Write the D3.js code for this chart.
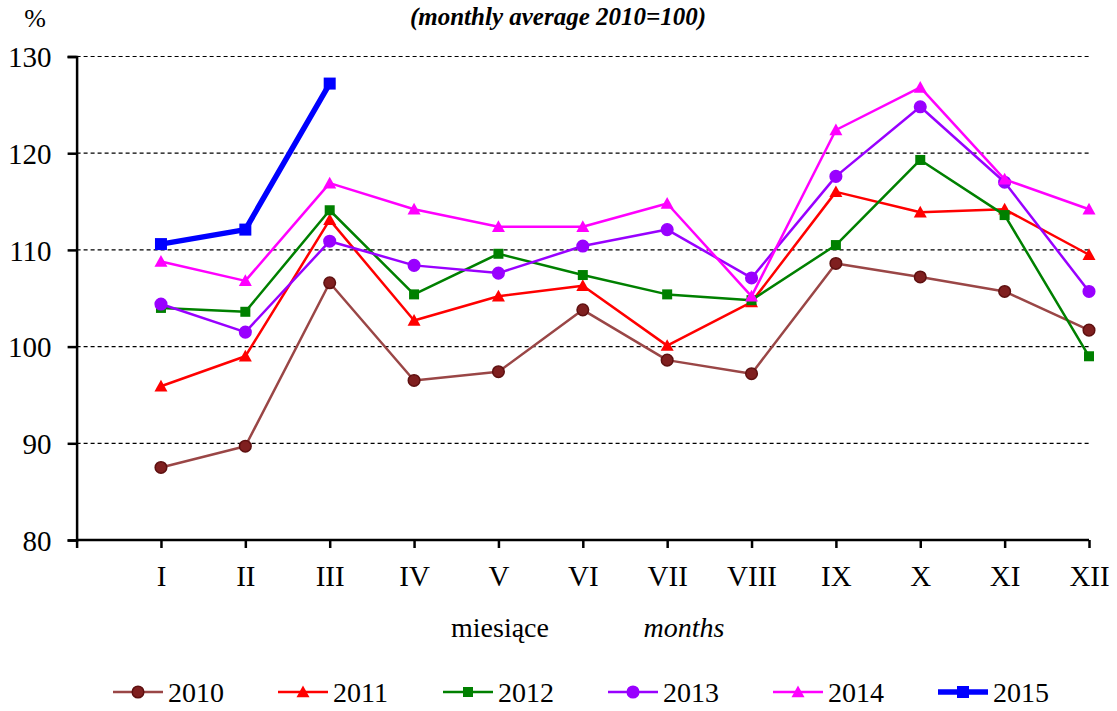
<!DOCTYPE html>
<html>
<head>
<meta charset="utf-8">
<script src="https://cdn.jsdelivr.net/npm/d3@7"></script>
<style>
  body { margin: 0; background: #fff; }
  svg text { font-family: "Liberation Serif", "Times New Roman", "DejaVu Serif", serif !important; fill: #000; }
</style>
</head>
<body>
<svg id="chart"></svg>
<script>
const width = 1117;
const height = 711;
const serif = '"Liberation Serif", "Times New Roman", serif';

// month labels and yearly series (monthly average 2010 = 100)
const months = ["I", "II", "III", "IV", "V", "VI", "VII", "VIII", "IX", "X", "XI", "XII"];
const yTicks = [80, 90, 100, 110, 120, 130];

const v2010 = [87.5, 89.7, 106.6, 96.5, 97.4, 103.8, 98.6, 97.2, 108.6, 107.2, 105.7, 101.7];
const v2011 = [95.9, 99.0, 113.1, 102.7, 105.2, 106.3, 100.1, 104.6, 116.0, 113.9, 114.2, 109.5];
const v2012 = [104.0, 103.6, 114.1, 105.4, 109.6, 107.4, 105.4, 104.8, 110.5, 119.3, 113.6, 99.0];
const v2013 = [104.4, 101.5, 110.9, 108.4, 107.6, 110.4, 112.1, 107.1, 117.6, 124.8, 117.0, 105.7];
const v2014 = [108.8, 106.8, 116.9, 114.2, 112.4, 112.4, 114.8, 105.2, 122.4, 126.8, 117.3, 114.2];
const v2015 = [110.6, 112.1, 127.2];

const series = [
  { name: "2010", values: v2010, line: "#9A4646", fill: "#7F1F1F", stroke: "#5E1010", shape: "circle", width: 2.5 },
  { name: "2011", values: v2011, line: "#FF0000", fill: "#FF0000", stroke: "#FF0000", shape: "triangle", width: 2.5 },
  { name: "2012", values: v2012, line: "#008000", fill: "#008000", stroke: "#008000", shape: "square", width: 2.5 },
  { name: "2013", values: v2013, line: "#9900FF", fill: "#9900FF", stroke: "#9900FF", shape: "circle", width: 2.5 },
  { name: "2014", values: v2014, line: "#FF00FF", fill: "#FF00FF", stroke: "#FF00FF", shape: "triangle", width: 2.5 },
  { name: "2015", values: v2015, line: "#0000FF", fill: "#0000FF", stroke: "#0000FF", shape: "square", width: 5.5 }
];

const svg = d3.select("#chart")
    .attr("width", width)
    .attr("height", height)
    .attr("font-family", serif);

// category positions 1..12, position 0 sits on the y axis
const x = d3.scaleLinear().domain([0, 12]).range([76.6, 1089]);
const y = d3.scaleLinear().domain([80, 130]).range([540, 56.5]);

// title
svg.append("text")
    .attr("x", 558)
    .attr("y", 25)
    .attr("text-anchor", "middle")
    .style("font-size", "25px")
    .style("font-weight", "bold")
    .style("font-style", "italic")
    .text("(monthly average 2010=100)");

svg.append("text")
    .attr("x", 35)
    .attr("y", 27)
    .attr("text-anchor", "middle")
    .style("font-size", "26px")
    .text("%");

// dashed gridlines
svg.append("g")
    .selectAll("line")
    .data(yTicks.filter(d => d > 80))
    .join("line")
    .attr("x1", x(0))
    .attr("x2", x(12))
    .attr("y1", d => y(d))
    .attr("y2", d => y(d))
    .attr("stroke", "#000")
    .attr("stroke-width", 1.2)
    .attr("stroke-dasharray", "4,3");

// y axis
const yAxis = svg.append("g")
    .attr("transform", `translate(${x(0)},0)`)
    .call(d3.axisLeft(y).tickValues(yTicks).tickSize(9).tickPadding(16));
yAxis.attr("font-family", serif);
yAxis.selectAll("text")
    .style("font-size", "29px")
    .attr("dy", "0.35em");
yAxis.selectAll("line, path").attr("stroke", "#000").attr("stroke-width", 2.5);

// x axis
const xAxis = svg.append("g")
    .attr("transform", `translate(0,${y(80)})`)
    .call(d3.axisBottom(x)
        .tickValues(d3.range(0, 13))
        .tickSize(8)
        .tickPadding(17)
        .tickFormat(d => d === 0 ? "" : months[d - 1]));
xAxis.attr("font-family", serif);
xAxis.selectAll("text")
    .style("font-size", "29px");
xAxis.selectAll("line, path").attr("stroke", "#000").attr("stroke-width", 2.5);
xAxis.select(".domain").attr("d", `M${x(0)},0H${x(12)}`);

// axis titles
svg.append("text")
    .attr("x", 500)
    .attr("y", 637)
    .attr("text-anchor", "middle")
    .style("font-size", "28px")
    .text("miesiące");

svg.append("text")
    .attr("x", 684)
    .attr("y", 637)
    .attr("text-anchor", "middle")
    .style("font-size", "28px")
    .style("font-style", "italic")
    .text("months");

// marker drawing helper
function drawMarker(g, s, cx, cy) {
    if (s.shape === "circle") {
        g.append("circle")
            .attr("cx", cx).attr("cy", cy).attr("r", 5.8)
            .attr("fill", s.fill).attr("stroke", s.stroke).attr("stroke-width", 1.5);
    } else if (s.shape === "square") {
        const a = s.name === "2015" ? 12 : 10;
        g.append("rect")
            .attr("x", cx - a / 2).attr("y", cy - a / 2)
            .attr("width", a).attr("height", a)
            .attr("fill", s.fill);
    } else {
        const h = 6.5;
        g.append("path")
            .attr("d", `M${cx},${cy - h}L${cx + h},${cy + h * 0.8}L${cx - h},${cy + h * 0.8}Z`)
            .attr("fill", s.fill);
    }
}

const line = d3.line()
    .x((d, i) => x(i + 1))
    .y(d => y(d));

// series lines and markers
series.forEach(s => {
    const g = svg.append("g");
    g.append("path")
        .datum(s.values)
        .attr("d", line)
        .attr("fill", "none")
        .attr("stroke", s.line)
        .attr("stroke-width", s.width)
        .attr("stroke-linejoin", "round");
    s.values.forEach((v, i) => drawMarker(g, s, x(i + 1), y(v)));
});

// legend
const legend = svg.append("g");
series.forEach((s, i) => {
    const lx = 113 + i * 165;
    const ly = 692;
    const g = legend.append("g");
    g.append("line")
        .attr("x1", lx).attr("x2", lx + 50)
        .attr("y1", ly).attr("y2", ly)
        .attr("stroke", s.line)
        .attr("stroke-width", s.width);
    drawMarker(g, s, lx + 25, ly);
    g.append("text")
        .attr("x", lx + 55)
        .attr("y", ly + 10)
        .style("font-size", "28px")
        .text(s.name);
});
</script>
</body>
</html>
